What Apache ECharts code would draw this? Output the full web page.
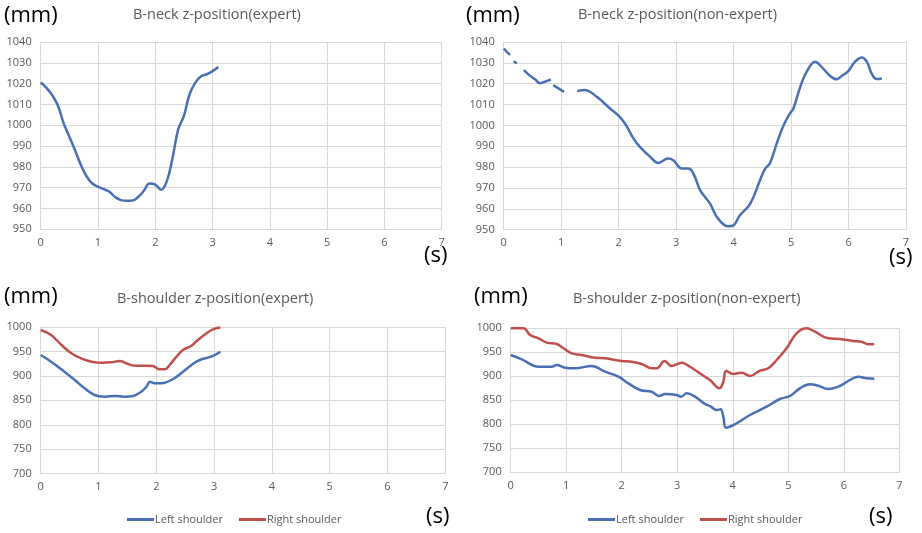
<!DOCTYPE html>
<html><head><meta charset="utf-8">
<script src="https://cdn.jsdelivr.net/npm/echarts@6/dist/echarts.min.js"></script>
<style>html,body{margin:0;padding:0;background:#fff}#c{width:922px;height:533px}</style>
</head><body><div id="c"></div>
<script>
// ---- Data ----
const xTicks = [0,1,2,3,4,5,6,7];
const neckTicks = [950,960,970,980,990,1000,1010,1020,1030,1040];
const shoulderTicks = [700,750,800,850,900,950,1000];

const neckExpT = [0,0.1,0.2,0.3,0.4,0.5,0.6,0.7,0.8,0.9,1.0,1.1,1.2,1.3,1.4,1.5,1.6,1.7,1.8,1.9,2.0,2.1,2.2,2.3,2.4,2.5,2.6,2.7,2.8,2.9,3.0,3.1];
const neckExpV = [1020.5,1018,1014.5,1009.5,1001,994.5,988,981,975.5,972,970.5,969.3,968,965.5,964,963.7,963.8,965.5,968.5,972,971.5,969,973,984,998,1004.5,1015,1020.5,1023.5,1024.5,1026,1028];

// '-' marks missing samples (gaps in the recorded line)
const neckNonT = [0,0.05,0.11,0.145,0.17,0.23,0.29,0.35,0.45,0.55,0.63,0.7,0.77,0.82,0.84,0.86,0.95,1.05,1.16,1.28,1.41,1.62,1.85,1.99,2.11,2.26,2.37,2.55,2.69,2.86,2.95,3.10,3.21,3.30,3.42,3.59,3.73,3.91,4.0,4.11,4.29,4.46,4.55,4.63,4.75,4.87,4.98,5.04,5.16,5.27,5.42,5.53,5.68,5.79,5.88,6.0,6.11,6.23,6.32,6.40,6.49,6.58];
const neckNonV = [1036.8,1035.4,1033.8,'-',1030.7,1029.8,'-',1026.5,1024,1022,1020.2,1020.8,1021.5,1022.1,'-',1019.3,1017.8,1016.1,'-',1016.5,1017,1013.7,1008.1,1004.9,1000.9,993.7,989.7,984.9,982.0,984.1,983.3,979.3,979.3,976.9,968.9,962.5,955.3,951.6,952.1,956.9,962.5,973.7,979.3,981.7,991.3,1000.1,1005.7,1008.1,1018.5,1025.7,1030.5,1028.1,1023.7,1022.1,1023.7,1026.2,1030.5,1032.6,1030.5,1025,1022.2,1022.5];

const shExpLeftT = [0,0.18,0.41,0.59,0.76,0.93,1.11,1.28,1.45,1.60,1.74,1.83,1.89,1.97,2.09,2.26,2.43,2.61,2.75,2.95,3.11];
const shExpLeftV = [942.7,929,908.6,891.6,874.6,861,857.5,858.9,857.5,858.9,867.7,877.9,888.1,884.8,884.8,891.6,905.3,922.3,932.5,939.3,949.5];
const shExpRightT = [0,0.18,0.36,0.53,0.70,0.88,1.05,1.22,1.37,1.48,1.63,1.80,1.94,2.06,2.15,2.23,2.35,2.46,2.61,2.72,2.87,2.98,3.11];
const shExpRightV = [993.9,983.6,963.2,946.2,936,929,927,927.8,930.5,925.8,920.9,920.9,920.2,913.5,913.5,922.3,939.3,953,961.8,973.4,987.1,995.3,999];

const shNonLeftT = [0,0.20,0.50,0.74,0.83,0.98,1.16,1.46,1.70,1.94,2.12,2.33,2.54,2.67,2.78,2.99,3.07,3.17,3.32,3.50,3.59,3.71,3.78,3.83,3.88,4.07,4.31,4.61,4.85,5.03,5.21,5.39,5.54,5.72,5.93,6.11,6.26,6.41,6.55];
const shNonLeftV = [943.9,934.9,919.5,919.5,923.1,917.5,916.2,921,909.2,898.8,885,871.1,867.6,858.6,862.8,860.7,857.2,864.2,857.2,842,837.8,829.5,830.9,815.6,792.7,801.9,819.1,836.4,852.4,858.6,874.6,882.9,880,873.2,879.4,891.9,898.8,895.4,894.6];
const shNonRightT = [0,0.23,0.35,0.50,0.65,0.83,0.95,1.10,1.28,1.52,1.70,2.0,2.18,2.36,2.54,2.63,2.77,2.90,3.08,3.23,3.50,3.59,3.76,3.83,3.88,4.01,4.16,4.31,4.49,4.64,4.79,4.97,5.15,5.33,5.48,5.72,5.93,6.17,6.32,6.44,6.55];
const shNonRightV = [999.4,999.4,985.4,978.6,969.5,966.7,957.8,947.4,943.9,938.3,937,931.4,930,925.2,916.2,916.2,931.4,921,927.9,919.5,898.8,891.9,874.6,888.4,910.6,904.4,907.1,900.2,911.2,916.2,933.5,957.8,989,999.4,992.3,978.6,977.1,973,971.5,966.1,966.7];

const titles = ['B-neck z-position(expert)','B-neck z-position(non-expert)','B-shoulder z-position(expert)','B-shoulder z-position(non-expert)'];
const seriesNames = ['Left shoulder','Right shoulder'];

// ---- Build ----
const zip = (t, v) => t.map((x, i) => [x, v[i]]);
const BLUE = '#4a6fb5', RED = '#c0504d';
const FONT = '"Open Sans", Lato, sans-serif';
const grids = [
  {left:40.7, top:42, width:401, height:187.3},
  {left:503.7, top:42, width:402.3, height:187.7},
  {left:40.7, top:327, width:404.6, height:146.7},
  {left:510.7, top:328, width:388.6, height:144.3}
];
const gridLine = {show:true, lineStyle:{color:'#d9d9d9', width:1}};
const xAxes = grids.map((g,i)=>({
  type:'value', gridIndex:i, min:xTicks[0], max:xTicks[xTicks.length-1], interval:1,
  axisLine:{show:true, lineStyle:{color:'#d9d9d9'}}, axisTick:{show:false}, splitLine:gridLine,
  axisLabel:{color:'#595959', fontSize:11, fontFamily:FONT, margin:8}
}));
const yAxes = grids.map((g,i)=>{
  const ticks = i<2 ? neckTicks : shoulderTicks;
  return {type:'value', gridIndex:i, min:ticks[0], max:ticks[ticks.length-1], interval:ticks[1]-ticks[0],
    axisLine:{show:true, lineStyle:{color:'#d9d9d9'}}, axisTick:{show:false}, splitLine:gridLine,
    axisLabel:{color:'#595959', fontSize:11, fontFamily:FONT, margin:9, formatter:v=>String(v)}};
});
const lineSeries = (name, data, idx, color) => ({
  type:'line', name, data, xAxisIndex:idx, yAxisIndex:idx, smooth:0.4, showSymbol:false,
  connectNulls:false, lineStyle:{color, width:2.5}, itemStyle:{color}, emphasis:{disabled:true}, animation:false
});
const series = [
  lineSeries('neckExp', zip(neckExpT, neckExpV), 0, BLUE),
  lineSeries('neckNon', zip(neckNonT, neckNonV), 1, BLUE),
  lineSeries(seriesNames[0], zip(shExpLeftT, shExpLeftV), 2, BLUE),
  lineSeries(seriesNames[1], zip(shExpRightT, shExpRightV), 2, RED),
  lineSeries(seriesNames[0], zip(shNonLeftT, shNonLeftV), 3, BLUE),
  lineSeries(seriesNames[1], zip(shNonRightT, shNonRightV), 3, RED)
];
const txt = (x, y, text, size, color, align) => ({type:'text', left:x, top:y, style:{text, fontSize:size, fill:color, fontFamily:FONT, align:align||'left'}});
const graphic = [
  txt(4, 5, '(mm)', 22, '#000'), txt(466, 5, '(mm)', 22, '#000'),
  txt(4, 286, '(mm)', 22, '#000'), txt(474, 286, '(mm)', 22, '#000'),
  txt(424, 245, '(s)', 22, '#000'), txt(889, 247, '(s)', 22, '#000'),
  txt(426, 506, '(s)', 22, '#000'), txt(869, 506, '(s)', 22, '#000'),
  txt(133, 7, titles[0], 14.5, '#595959'), txt(578, 7, titles[1], 14.5, '#595959'),
  txt(117, 291, titles[2], 14.5, '#595959'), txt(573, 291, titles[3], 14.5, '#595959')
];
const legendBase = {data:seriesNames, icon:'rect', itemWidth:27, itemHeight:3, itemGap:16,
  textStyle:{color:'#595959', fontSize:11, fontFamily:FONT, padding:[0,0,0,-4]}, selectedMode:false};
const option = {
  backgroundColor:'#fff', animation:false,
  grid:grids, xAxis:xAxes, yAxis:yAxes, series, graphic,
  legend:[Object.assign({left:122, top:509}, legendBase), Object.assign({left:583, top:509}, legendBase)]
};
const chart = echarts.init(document.getElementById('c'), null, {renderer:'canvas'});
chart.setOption(option);
</script></body></html>
